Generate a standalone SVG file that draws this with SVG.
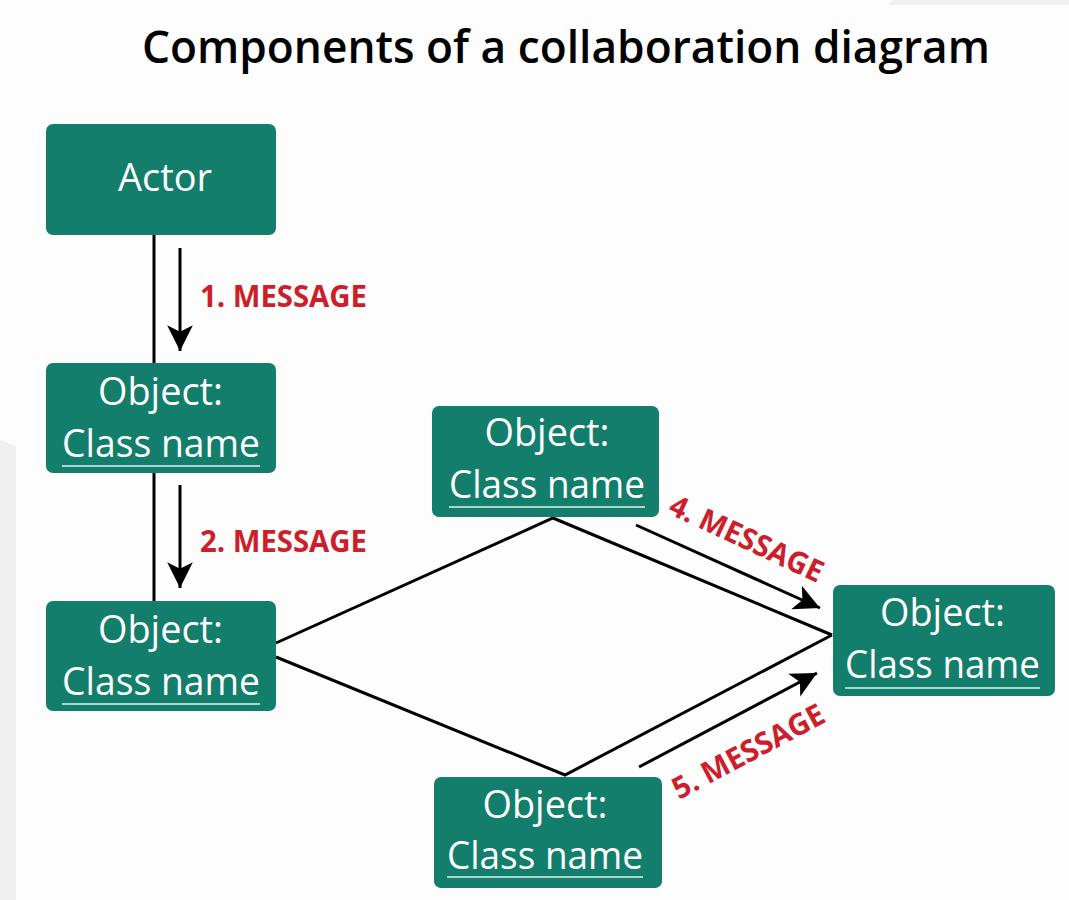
<svg xmlns="http://www.w3.org/2000/svg" width="1069" height="900" viewBox="0 0 1069 900">
  <style>
    .box { fill: #127e6b; }
    .t { font-family: "Open Sans", "Liberation Sans", sans-serif; font-size: 38px; fill: #ffffff; text-anchor: middle; }
    .ul { stroke: #a9d6cc; stroke-width: 2; }
    .ln { stroke: #000000; stroke-width: 3; fill: none; }
    .msg { font-family: "Open Sans", "Liberation Sans", sans-serif; font-weight: 700; font-size: 30px; fill: #cc1f2b; }
    .title { font-family: "Open Sans", "Liberation Sans", sans-serif; font-weight: 600; font-size: 46px; fill: #000000; text-anchor: middle; }
  </style>
  <defs>
    <marker id="ah" markerUnits="userSpaceOnUse" markerWidth="30" markerHeight="30" viewBox="-25 -14 27 28" refX="0" refY="0" orient="auto">
      <path d="M0,0 L-24,-12 L-18,0 L-24,12 Z" fill="#000000"/>
    </marker>
  </defs>
  <rect x="0" y="0" width="1069" height="900" fill="#fdfdfd"/>
  <polygon points="0,440 16,446 16,900 0,900" fill="#f0f0f0"/>
  <polygon points="893,0 1069,0 1069,5 888,5" fill="#f0f0f0"/>

  <text class="title" x="566" y="63" textLength="848" lengthAdjust="spacingAndGlyphs">Components of a collaboration diagram</text>

  <g id="connectors">
    <line class="ln" x1="154" y1="235" x2="154" y2="363"/>
    <line class="ln" x1="154" y1="473" x2="154" y2="601"/>
    <polyline class="ln" points="276,643 553,518 832,635"/>
    <polyline class="ln" points="276,657 565,775 832,635"/>
    <line class="ln" x1="180" y1="248" x2="180" y2="351" marker-end="url(#ah)"/>
    <line class="ln" x1="180" y1="485" x2="180" y2="588" marker-end="url(#ah)"/>
    <line class="ln" x1="636" y1="525" x2="820" y2="608" marker-end="url(#ah)"/>
    <line class="ln" x1="639" y1="767" x2="817" y2="673" marker-end="url(#ah)"/>
    <text class="msg" x="200" y="307" textLength="167" lengthAdjust="spacingAndGlyphs">1. MESSAGE</text>
    <text class="msg" x="200" y="552" textLength="167" lengthAdjust="spacingAndGlyphs">2. MESSAGE</text>
    <text class="msg" transform="translate(667,513) rotate(25)" textLength="166" lengthAdjust="spacingAndGlyphs">4. MESSAGE</text>
    <text class="msg" transform="translate(679,800) rotate(-28)" textLength="168" lengthAdjust="spacingAndGlyphs">5. MESSAGE</text>
  </g>

  <g id="actor">
    <rect class="box" x="46" y="124" width="230" height="111" rx="7"/>
    <text class="t" x="165" y="191" textLength="94" lengthAdjust="spacingAndGlyphs">Actor</text>
  </g>

  <g id="object1">
    <rect class="box" x="46" y="363" width="230" height="110" rx="7"/>
    <text class="t" x="160.5" y="405" textLength="125" lengthAdjust="spacingAndGlyphs">Object:</text>
    <text class="t" x="161" y="457" textLength="198" lengthAdjust="spacingAndGlyphs">Class name</text>
    <line class="ul" x1="62" y1="466" x2="260" y2="466"/>
  </g>

  <g id="object2">
    <rect class="box" x="46" y="601" width="230" height="110" rx="7"/>
    <text class="t" x="160.5" y="643" textLength="125" lengthAdjust="spacingAndGlyphs">Object:</text>
    <text class="t" x="161" y="695" textLength="198" lengthAdjust="spacingAndGlyphs">Class name</text>
    <line class="ul" x1="62" y1="704" x2="260" y2="704"/>
  </g>

  <g id="object3">
    <rect class="box" x="432" y="406" width="227" height="111" rx="7"/>
    <text class="t" x="547" y="446" textLength="125" lengthAdjust="spacingAndGlyphs">Object:</text>
    <text class="t" x="547" y="498" textLength="196" lengthAdjust="spacingAndGlyphs">Class name</text>
    <line class="ul" x1="449" y1="507" x2="645" y2="507"/>
  </g>

  <g id="object4">
    <rect class="box" x="833" y="585" width="222" height="111" rx="7"/>
    <text class="t" x="942.5" y="626" textLength="125" lengthAdjust="spacingAndGlyphs">Object:</text>
    <text class="t" x="942.5" y="678" textLength="195" lengthAdjust="spacingAndGlyphs">Class name</text>
    <line class="ul" x1="845" y1="688" x2="1040" y2="688"/>
  </g>

  <g id="object5">
    <rect class="box" x="434" y="777" width="228" height="111" rx="7"/>
    <text class="t" x="545" y="818" textLength="125" lengthAdjust="spacingAndGlyphs">Object:</text>
    <text class="t" x="545" y="869" textLength="196" lengthAdjust="spacingAndGlyphs">Class name</text>
    <line class="ul" x1="447" y1="877" x2="643" y2="877"/>
  </g>
</svg>
